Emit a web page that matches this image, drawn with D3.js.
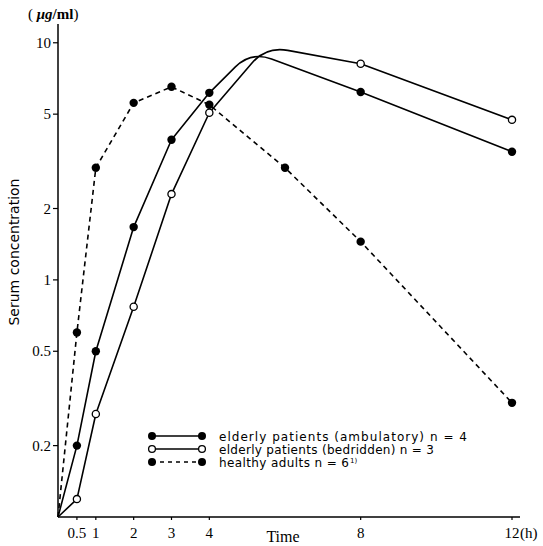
<!DOCTYPE html>
<html>
<head>
<meta charset="utf-8">
<script src="https://cdnjs.cloudflare.com/ajax/libs/d3/7.8.5/d3.min.js"></script>
<style>
  body { margin: 0; background: #fff; }
  svg { display: block; }
</style>
</head>
<body>
<svg width="543" height="546"></svg>
<script>
// time (h) and serum concentration (ug/ml); t=0 starts at the bottom of the axis.
// unmarked interior points are the rounded peaks of the hand drawn curves
var timesAmb = [0, 0.5, 1, 2, 3, 4, 5.1, 8, 12];
var valuesAmb = [0.1, 0.2, 0.5, 1.67, 3.9, 6.15, 9.2, 6.2, 3.47];
var markedAmb = [false, true, true, true, true, true, false, true, true];

var timesBed = [0, 0.5, 1, 2, 3, 4, 5.5, 8, 12];
var valuesBed = [0.1, 0.119, 0.272, 0.77, 2.3, 5.07, 9.65, 8.16, 4.73];
var markedBed = [false, true, true, true, true, true, false, true, true];

var timesHealthy = [0, 0.5, 1, 2, 3, 4, 6, 8, 12];
var valuesHealthy = [0.1, 0.6, 2.97, 5.58, 6.52, 5.48, 2.97, 1.45, 0.303];
var markedHealthy = [false, true, true, true, true, true, true, true, true];

var xTicks = [0.5, 1, 2, 3, 4, 8, 12];
var yTicks = [0.2, 0.5, 1, 2, 5, 10];
var legendLabels = [
  'elderly patients (ambulatory) n = 4',
  'elderly patients (bedridden) n = 3',
  'healthy adults n = 6'
];

var svg = d3.select('svg'),
    serif = '"Liberation Serif", "DejaVu Serif", serif',
    sans = '"DejaVu Sans", "Noto Sans", sans-serif';

var x = d3.scaleLinear().domain([0, 12]).range([58, 512]);
var y = d3.scaleLog().domain([0.1, 12]).range([517, 24]);

function series(times, values, marked, filled, dashed) {
  return {
    pts: times.map(function (t, i) {
      return { t: t, v: values[i], m: marked[i] };
    }),
    filled: filled,
    dashed: dashed
  };
}

var allSeries = [
  series(timesHealthy, valuesHealthy, markedHealthy, true, true),
  series(timesAmb, valuesAmb, markedAmb, true, false),
  series(timesBed, valuesBed, markedBed, false, false)
];

// straight segments, rounded only at the unmarked peak vertex
function curvePath(pts) {
  var p = d3.path(),
      xy = pts.map(function (d) { return [x(d.t), y(d.v)]; });
  p.moveTo(xy[0][0], xy[0][1]);
  for (var i = 1; i < xy.length; i++) {
    var c = xy[i];
    if (!pts[i].m && i < xy.length - 1) {
      var a = xy[i - 1], b = xy[i + 1];
      var la = Math.hypot(a[0] - c[0], a[1] - c[1]),
          lb = Math.hypot(b[0] - c[0], b[1] - c[1]),
          r = 22;
      var s = [c[0] + (a[0] - c[0]) * r / la, c[1] + (a[1] - c[1]) * r / la],
          e = [c[0] + (b[0] - c[0]) * r / lb, c[1] + (b[1] - c[1]) * r / lb];
      p.lineTo(s[0], s[1]);
      p.quadraticCurveTo(c[0], c[1], e[0], e[1]);
    } else {
      p.lineTo(c[0], c[1]);
    }
  }
  return p.toString();
}

// axes
svg.append('line')
  .attr('x1', x(0)).attr('x2', x(0))
  .attr('y1', y(12)).attr('y2', y(0.1))
  .attr('stroke', '#000').attr('stroke-width', 1.5);
svg.append('line')
  .attr('x1', x(0)).attr('x2', 520)
  .attr('y1', y(0.1)).attr('y2', y(0.1))
  .attr('stroke', '#000').attr('stroke-width', 1.5);

var yg = svg.append('g');
yTicks.forEach(function (v) {
  yg.append('line')
    .attr('x1', x(0) - 5).attr('x2', x(0))
    .attr('y1', y(v)).attr('y2', y(v))
    .attr('stroke', '#000').attr('stroke-width', 1.2);
  yg.append('text')
    .attr('x', x(0) - 7).attr('y', y(v) + 5)
    .attr('text-anchor', 'end')
    .attr('font-family', serif).attr('font-size', 15)
    .text(v);
});

var xg = svg.append('g');
xTicks.forEach(function (t) {
  xg.append('line')
    .attr('x1', x(t)).attr('x2', x(t))
    .attr('y1', y(0.1)).attr('y2', y(0.1) + 3)
    .attr('stroke', '#000').attr('stroke-width', 1.2);
  xg.append('text')
    .attr('x', x(t)).attr('y', 538)
    .attr('text-anchor', 'middle')
    .attr('font-family', serif).attr('font-size', 15)
    .text(t);
});
svg.append('text')
  .attr('x', x(12) + 8).attr('y', 538)
  .attr('font-family', serif).attr('font-size', 15)
  .text('(h)');

svg.append('text')
  .attr('x', 283).attr('y', 542)
  .attr('text-anchor', 'middle')
  .attr('font-family', serif).attr('font-size', 16)
  .text('Time');

svg.append('text')
  .attr('transform', 'translate(19,252) rotate(-90)')
  .attr('text-anchor', 'middle')
  .attr('font-family', sans).attr('font-size', 14)
  .attr('textLength', 147)
  .text('Serum concentration');

var unit = svg.append('text')
  .attr('x', 28).attr('y', 19)
  .attr('font-family', serif).attr('font-size', 15);
unit.append('tspan').text('( ');
unit.append('tspan').attr('font-style', 'italic').attr('font-weight', 'bold').text('\u03bcg');
unit.append('tspan').attr('font-weight', 'bold').text('/ml');
unit.append('tspan').text(')');

// curves
allSeries.forEach(function (s) {
  svg.append('path')
    .attr('d', curvePath(s.pts))
    .attr('fill', 'none')
    .attr('stroke', '#000')
    .attr('stroke-width', 1.6)
    .attr('stroke-linejoin', 'round')
    .attr('stroke-dasharray', s.dashed ? '5,4' : null);
  svg.selectAll(null)
    .data(s.pts.filter(function (d) { return d.m; }))
    .enter()
    .append('circle')
    .attr('cx', function (d) { return x(d.t); })
    .attr('cy', function (d) { return y(d.v); })
    .attr('r', s.filled ? 4.2 : 3.6)
    .attr('fill', s.filled ? '#000' : '#fff')
    .attr('stroke', '#000')
    .attr('stroke-width', s.filled ? 0 : 1.3);
});

// legend
var legendRows = [allSeries[1], allSeries[2], allSeries[0]],
    legendWidths = [248, 215, 130];
legendRows.forEach(function (s, i) {
  var ly = 436 + i * 13;
  var g = svg.append('g');
  g.append('line')
    .attr('x1', 152).attr('x2', 202)
    .attr('y1', ly).attr('y2', ly)
    .attr('stroke', '#000').attr('stroke-width', 1.6)
    .attr('stroke-dasharray', s.dashed ? '4,4' : null);
  [152, 202].forEach(function (cx) {
    g.append('circle')
      .attr('cx', cx).attr('cy', ly)
      .attr('r', s.filled ? 4 : 3.4)
      .attr('fill', s.filled ? '#000' : '#fff')
      .attr('stroke', '#000')
      .attr('stroke-width', s.filled ? 0 : 1.3);
  });
  g.append('text')
    .attr('x', 219).attr('y', ly + 4.5)
    .attr('font-family', sans).attr('font-size', 12)
    .attr('textLength', legendWidths[i])
    .attr('lengthAdjust', 'spacing')
    .text(legendLabels[i]);
  if (i === 2) {
    g.append('text')
      .attr('x', 219 + legendWidths[i] + 1).attr('y', ly + 0.5)
      .attr('font-family', sans).attr('font-size', 7)
      .text('1)');
  }
});
</script>
</body>
</html>
